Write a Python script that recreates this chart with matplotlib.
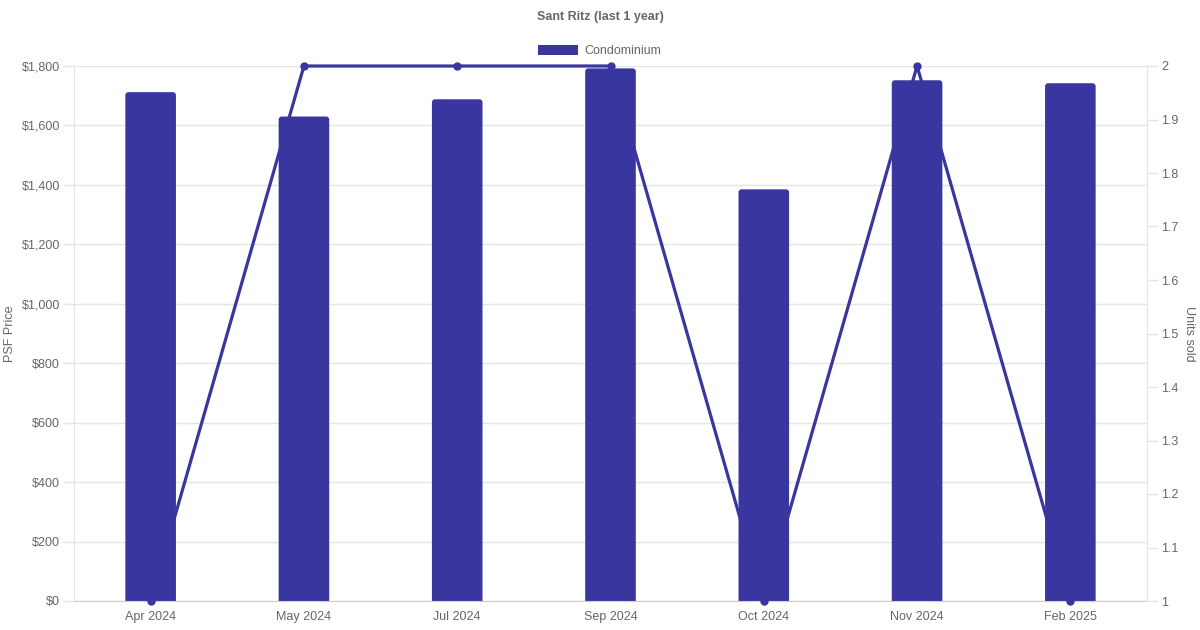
import matplotlib
matplotlib.use('Agg')
import matplotlib.pyplot as plt
from matplotlib.ticker import FuncFormatter, MultipleLocator
from matplotlib.patches import Patch, FancyBboxPatch

months = ['Apr 2024', 'May 2024', 'Jul 2024', 'Sep 2024', 'Oct 2024', 'Nov 2024', 'Feb 2025']
psf_price = [1712, 1630, 1688, 1792, 1385, 1752, 1742]
units_sold = [1, 2, 2, 2, 1, 2, 1]

BAR = '#3a36a0'
TXT = '#666666'
GRID = '#e5e5e5'

plt.rcParams['font.family'] = ['Liberation Sans', 'DejaVu Sans']

fig = plt.figure(figsize=(12, 6.3), dpi=100)
ax = fig.add_axes([74 / 1200, 1 - 601 / 630, (1147 - 74) / 1200, (601 - 66) / 630])
x = list(range(len(months)))

ax.set_xlim(-0.5, len(months) - 0.5)
ax.set_ylim(0, 1800)
bars = ax.bar(x, psf_price, width=0.33, color=BAR, zorder=2)

# rounded top corners, like the original (about 3 px)
aspect = (1800 / 535) / (7 / 1073)
r = 0.02
for b in bars:
    b.set_visible(False)
    pad_y = r * aspect
    p = FancyBboxPatch((b.get_x(), b.get_y() - pad_y), b.get_width(), b.get_height() + pad_y,
                       boxstyle='round,pad=0,rounding_size=%g' % r, mutation_aspect=aspect,
                       facecolor=BAR, edgecolor='none', zorder=2)
    ax.add_patch(p)

ax.yaxis.set_major_locator(MultipleLocator(200))
ax.yaxis.set_major_formatter(FuncFormatter(lambda v, p: '${:,.0f}'.format(v)))
ax.set_xticks(x)
ax.set_xticklabels(months)
ax.grid(axis='y', color=GRID, linewidth=1, zorder=0)
ax.set_axisbelow(True)
ax.tick_params(axis='y', colors=GRID, labelcolor=TXT, labelsize=9, length=8, width=1, pad=2)
ax.tick_params(axis='x', length=0, labelcolor=TXT, labelsize=9, pad=7)
for s in ['top', 'right']:
    ax.spines[s].set_visible(False)
ax.spines['left'].set_color(GRID)
ax.spines['bottom'].set_color('#cccccc')
ax.spines['bottom'].set_zorder(3)
ax.set_ylabel('PSF Price', color=TXT, fontsize=9, labelpad=4)

ax2 = ax.twinx()
ax2.plot(x, units_sold, color=BAR, linewidth=2.3, marker='o', markersize=5,
         clip_on=False, zorder=3)
ax2.set_ylim(1, 2)
ax2.yaxis.set_major_locator(MultipleLocator(0.1))
ax2.yaxis.set_major_formatter(FuncFormatter(lambda v, p: '{:g}'.format(round(v, 1))))
ax2.tick_params(axis='y', colors=GRID, labelcolor=TXT, labelsize=9, length=8, width=1, pad=2)
for s in ['top', 'left', 'bottom']:
    ax2.spines[s].set_visible(False)
ax2.spines['right'].set_color(GRID)
ax2.set_ylabel('Units sold', color=TXT, fontsize=9, rotation=270, labelpad=12)

fig.text(0.5, 1 - 17 / 630, 'Sant Ritz (last 1 year)', ha='center', va='center',
         color=TXT, fontsize=9, fontweight='bold')
leg = fig.legend(handles=[Patch(facecolor=BAR, label='Condominium')], loc='center',
                 bbox_to_anchor=(0.5, 1 - 51 / 630), frameon=False, fontsize=9,
                 handlelength=3.2, handleheight=0.9, handletextpad=0.5)
for t in leg.get_texts():
    t.set_color(TXT)

fig.savefig('out.png', dpi=100)
